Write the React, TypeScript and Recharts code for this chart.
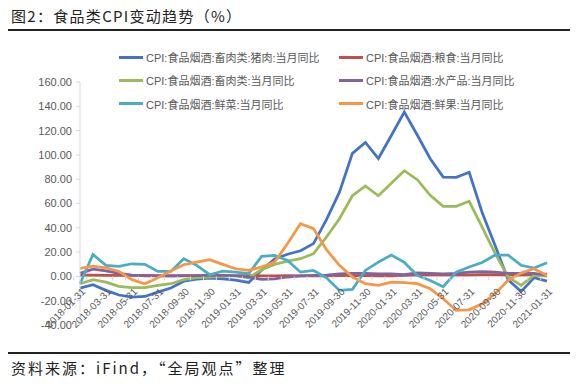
import { LineChart, Line, XAxis, YAxis, ReferenceLine } from "recharts";

const dates = [
  "2018-01-31", "2018-02-28", "2018-03-31", "2018-04-30", "2018-05-31", "2018-06-30",
  "2018-07-31", "2018-08-31", "2018-09-30", "2018-10-31", "2018-11-30", "2018-12-31",
  "2019-01-31", "2019-02-28", "2019-03-31", "2019-04-30", "2019-05-31", "2019-06-30",
  "2019-07-31", "2019-08-31", "2019-09-30", "2019-10-31", "2019-11-30", "2019-12-31",
  "2020-01-31", "2020-02-29", "2020-03-31", "2020-04-30", "2020-05-31", "2020-06-30",
  "2020-07-31", "2020-08-31", "2020-09-30", "2020-10-31", "2020-11-30", "2020-12-31",
  "2021-01-31",
];

const pork = [
  -9.6, -6.9, -11.5, -15.3, -17.0, -16.5, -12.9, -9.5, -4.0, -2.2, -1.5, -2.0,
  -3.0, -5.0, 5.1, 14.4, 18.2, 21.1, 27.0, 46.7, 69.3, 101.3, 110.2, 97.0,
  116.0, 135.2, 116.4, 96.9, 81.7, 81.6, 85.7, 52.6, 25.5, -2.8, -12.5, -1.1,
  -3.9,
];
const grain = [
  1.0, 1.0, 0.9, 0.8, 0.8, 0.8, 0.7, 0.6, 0.6, 0.6, 0.7, 0.8,
  0.7, 0.6, 0.5, 0.5, 0.6, 0.4, 0.4, 0.4, 0.6, 0.7, 0.6, 0.5,
  0.5, 0.8, 1.3, 1.5, 1.2, 1.2, 1.3, 1.4, 1.5, 1.2, 1.2, 1.5,
  1.8,
];
const meat = [
  -6.0, -2.7, -4.7, -8.2, -9.3, -9.3, -7.4, -6.0, -2.7, -1.1, -0.5, 0.0,
  0.8, -1.1, 5.5, 9.9, 12.6, 14.6, 18.7, 32.4, 47.5, 66.4, 74.5, 66.4,
  76.7, 87.0, 79.6, 66.7, 57.7, 57.7, 61.8, 40.6, 19.0, -0.5, -7.4, 0.8,
  0.3,
];
const aquatic = [
  2.5, 6.0, 4.5, 2.5, 1.0, 0.5, 0.5, 0.3, 0.5, 0.7, 0.8, 0.8,
  0.5, -0.5, -2.5, -2.0, -0.5, 0.5, 0.8, 1.0, 2.0, 2.5, 2.5, 2.0,
  2.0, 1.5, 3.0, 2.5, 2.0, 2.5, 3.5, 4.0, 3.5, 2.5, 2.5, 2.5,
  1.0,
];
const veg = [
  -6.0, 18.1, 9.1, 8.2, 10.4, 9.9, 4.1, 4.1, 14.6, 9.1, 1.4, 4.4,
  3.5, 2.2, 16.5, 17.3, 13.2, 3.5, 4.9, -1.1, -11.5, -10.7, 4.9, 11.8,
  17.6, 11.5, 0.8, -3.3, -8.5, 3.5, 7.7, 11.5, 17.6, 17.6, 9.1, 6.9,
  11.2,
];
const fruit = [
  6.6, 8.5, 7.1, 4.1, -2.7, -6.0, -1.1, 4.5, 9.6, 11.8, 13.7, 9.9,
  6.3, 4.9, 7.7, 11.8, 27.0, 43.4, 39.3, 22.0, 9.1, -0.5, -6.0, -7.4,
  -4.7, -5.2, -6.0, -10.2, -18.4, -28.0, -27.5, -22.5, -14.3, -3.3, 2.7, 6.3,
  0.8,
];

const yTicks = [-40, -20, 0, 20, 40, 60, 80, 100, 120, 140, 160];

const series = [
  { key: "pork", name: "CPI:食品烟酒:畜肉类:猪肉:当月同比", color: "#4472C4", values: pork },
  { key: "grain", name: "CPI:食品烟酒:粮食:当月同比", color: "#C0504D", values: grain },
  { key: "meat", name: "CPI:食品烟酒:畜肉类:当月同比", color: "#9BBB59", values: meat },
  { key: "aquatic", name: "CPI:食品烟酒:水产品:当月同比", color: "#8064A2", values: aquatic },
  { key: "veg", name: "CPI:食品烟酒:鲜菜:当月同比", color: "#4BACC6", values: veg },
  { key: "fruit", name: "CPI:食品烟酒:鲜果:当月同比", color: "#F79646", values: fruit },
];

const data = dates.map((date, i) => {
  const row: Record<string, string | number> = { date };
  series.forEach((s) => (row[s.key] = s.values[i]));
  return row;
});

const W = 577;
const H = 385;
const TOP = 82;
const LEFT = 80;
const RIGHT = 30;
const PLOT_H = 243;
const ZERO_Y = TOP + (PLOT_H * 160) / 200;
const BAND = (W - LEFT - RIGHT) / dates.length;
const GRAY = "#595959";
const AXIS = "#d9d9d9";
const FONT = '"Liberation Sans", "Noto Sans CJK SC", sans-serif';

// x labels sit under the zero line, like the excel original
function DateTick(props: any) {
  const { x, payload, index } = props;
  const ax = x + 6;
  const ay = ZERO_Y + 16;
  return (
    <g>
      <line x1={x - BAND / 2} x2={x - BAND / 2} y1={ZERO_Y} y2={ZERO_Y + 4} stroke={AXIS} />
      {index % 2 === 0 && (
        <text
          x={ax}
          y={ay}
          textAnchor="end"
          fontSize={10}
          fill={GRAY}
          fontFamily={FONT}
          transform={`rotate(-45, ${ax}, ${ay})`}
        >
          {payload.value}
        </text>
      )}
    </g>
  );
}

export default function App() {
  return (
    <div style={{ position: "absolute", left: 0, top: 0, width: W, height: H, background: "#fff" }}>
      <div
        style={{
          position: "absolute",
          left: 11,
          top: 5,
          fontSize: 15,
          letterSpacing: 1.3,
          fontFamily: '"Noto Sans CJK SC", sans-serif',
          color: "#222",
          whiteSpace: "nowrap",
        }}
      >
        图2：食品类CPI变动趋势（%）
      </div>
      <div style={{ position: "absolute", left: 8, top: 29, width: 562, height: 2, background: "#222" }} />

      <LineChart
        width={W}
        height={H}
        data={data}
        margin={{ top: TOP, right: RIGHT, bottom: 30, left: 0 }}
      >
        <XAxis
          dataKey="date"
          interval={0}
          height={30}
          axisLine={false}
          tickLine={false}
          tick={<DateTick />}
        />
        <YAxis
          domain={[-40, 160]}
          ticks={yTicks}
          width={LEFT}
          tickSize={4}
          tickMargin={4}
          stroke={AXIS}
          tick={{ fontSize: 11, fill: GRAY, fontFamily: FONT }}
          tickFormatter={(v: number) => v.toFixed(2)}
        />
        <ReferenceLine y={0} stroke={AXIS} />
        {series.map((s) => (
          <Line
            key={s.key}
            dataKey={s.key}
            name={s.name}
            stroke={s.color}
            strokeWidth={2.75}
            dot={false}
            isAnimationActive={false}
          />
        ))}
      </LineChart>

      {series.map((s, i) => {
        const col = i % 2;
        const row = Math.floor(i / 2);
        return (
          <div
            key={s.key}
            style={{
              position: "absolute",
              left: col === 0 ? 119 : 339,
              top: 50 + row * 23.3,
              display: "flex",
              alignItems: "center",
              fontSize: 11,
              color: GRAY,
              fontFamily: FONT,
              whiteSpace: "nowrap",
              height: 14,
            }}
          >
            <span style={{ display: "inline-block", width: 24, height: 3, background: s.color, marginRight: 3 }} />
            {s.name}
          </div>
        );
      })}

      <div style={{ position: "absolute", left: 8, top: 352, width: 562, height: 2, background: "#222" }} />
      <div
        style={{
          position: "absolute",
          left: 11,
          top: 357,
          fontSize: 15,
          letterSpacing: 2,
          fontFamily: '"Noto Sans CJK SC", sans-serif',
          color: "#222",
          whiteSpace: "nowrap",
        }}
      >
        资料来源：iFind，“全局观点”整理
      </div>
    </div>
  );
}
